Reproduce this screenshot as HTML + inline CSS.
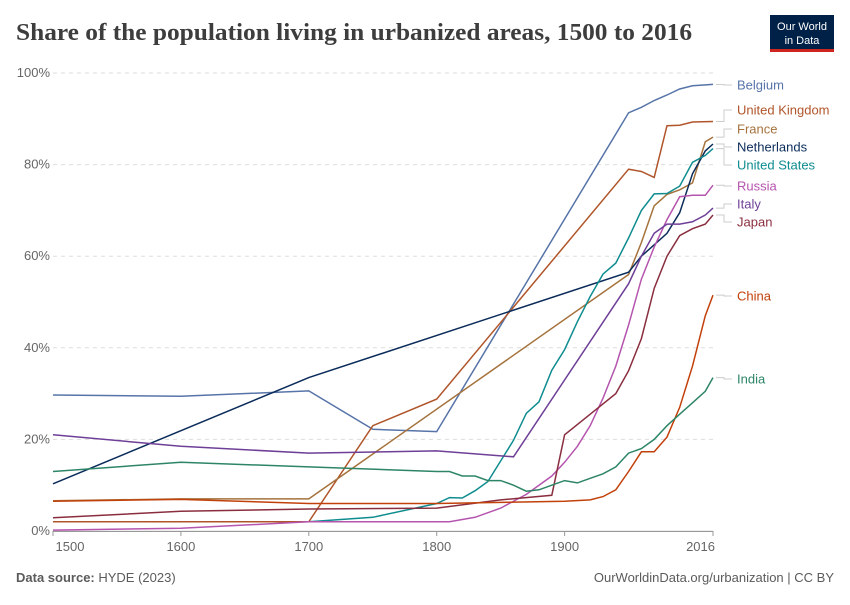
<!DOCTYPE html>
<html><head><meta charset="utf-8">
<style>
body{margin:0;background:#fff;font-family:"Liberation Sans",sans-serif;}
svg text{font-family:"Liberation Sans",sans-serif;}
</style></head>
<body>
<svg width="850" height="600" viewBox="0 0 850 600">
<text x="16" y="40" font-size="24" font-weight="bold" fill="#3d3d3d" style="font-family:'Liberation Serif',serif" textLength="676" lengthAdjust="spacingAndGlyphs">Share of the population living in urbanized areas, 1500 to 2016</text>
<g>
<rect x="770" y="15" width="64" height="36" fill="#002147"/>
<rect x="770" y="49" width="64" height="3" fill="#ce261e"/>
<text x="802" y="30" font-size="11" fill="#fff" text-anchor="middle">Our World</text>
<text x="802" y="44" font-size="11" fill="#fff" text-anchor="middle">in Data</text>
</g>
<g id="grid"></g>
<g id="xaxis"></g>
<g id="lines"></g>
<g id="labels"></g>
<text x="16" y="582" font-size="13" fill="#5b5b5b"><tspan font-weight="bold">Data source:</tspan> HYDE (2023)</text>
<text x="834" y="582" font-size="13" fill="#5b5b5b" text-anchor="end">OurWorldinData.org/urbanization | CC BY</text>
</svg>
<script>
const yTicks=[0,20,40,60,80,100];
const xTicks=[1500,1600,1700,1800,1900,2016];
const names=["Belgium","United Kingdom","France","Netherlands","United States","Russia","Italy","Japan","China","India"];
const colors=["#5774a8","#b0552a","#a5723c","#0b2c5a","#0f8c8f","#b555ae","#6e3f97","#8a2e3f","#c2410b","#2d8566"];
const labelY=[85,110,129,147,165,186,204,222,296,379];
const belgiumY=[1500,1600,1700,1750,1800,1950,1960,1970,1980,1990,2000,2016];
const belgiumV=[29.7,29.4,30.6,22.2,21.7,91.3,92.5,94,95.2,96.5,97.2,97.5];
const ukY=[1500,1700,1750,1800,1950,1960,1970,1980,1990,2000,2016];
const ukV=[2,2,23,28.8,79,78.5,77.2,88.5,88.6,89.3,89.4];
const franceY=[1500,1600,1700,1950,1960,1970,1980,1990,2000,2010,2016];
const franceV=[6.6,7,7,56,63,71,73.5,74.5,76,85,86];
const nlY=[1500,1700,1950,1960,1970,1980,1990,2000,2010,2016];
const nlV=[10.3,33.5,56.5,60,62.5,65,69.5,78,83,84.5];
const usY=[1700,1750,1800,1810,1820,1830,1840,1850,1860,1870,1880,1890,1900,1910,1920,1930,1940,1950,1960,1970,1980,1990,2000,2010,2016];
const usV=[2,3,6,7.3,7.2,8.8,10.8,15.3,19.8,25.7,28.2,35.1,39.6,45.7,51.2,56.1,58.5,64,70,73.6,73.7,75.3,80.5,82,83.5];
const ruY=[1500,1600,1700,1810,1830,1850,1870,1890,1900,1910,1920,1930,1940,1950,1960,1970,1980,1990,2000,2010,2016];
const ruV=[0.2,0.6,2,2,3,5,8,12,15,18.5,23,29,36,45,55,62,68,73,73.3,73.3,75.5];
const itY=[1500,1600,1700,1800,1860,1950,1960,1970,1980,1990,2000,2010,2016];
const itV=[21,18.5,17,17.5,16.2,54,60,65,67,67,67.5,69,70.5];
const jpY=[1500,1600,1700,1800,1850,1890,1900,1920,1940,1950,1960,1970,1980,1990,2000,2010,2016];
const jpV=[2.9,4.3,4.8,5,6.8,7.8,21,25.5,30,35,42,53,60,64.5,66,67,69];
const cnY=[1500,1600,1700,1800,1900,1920,1930,1940,1950,1960,1970,1980,1990,2000,2010,2016];
const cnV=[6.5,6.9,6,6,6.5,6.8,7.5,9,13,17.3,17.3,20.5,27,36,47,51.5];
const inY=[1500,1600,1700,1800,1810,1820,1830,1840,1850,1860,1870,1880,1890,1900,1910,1920,1930,1940,1950,1960,1970,1980,1990,2000,2010,2016];
const inV=[13,15,14,13,13,12,12,11,11,10,8.7,9,10,11,10.5,11.5,12.5,14,17,18,20,23,25.5,28,30.5,33.5];
const years=[belgiumY,ukY,franceY,nlY,usY,ruY,itY,jpY,cnY,inY];
const vals=[belgiumV,ukV,franceV,nlV,usV,ruV,itV,jpV,cnV,inV];
const X0=53,X1=713,Y0=531,Y1=73;
const x=yr=>X0+(yr-1500)/(2016-1500)*(X1-X0);
const y=v=>Y0-v/100*(Y0-Y1);
const NS="http://www.w3.org/2000/svg";
function mk(t,a,p){const e=document.createElementNS(NS,t);for(const k in a)e.setAttribute(k,a[k]);p.appendChild(e);return e;}
const g=document.getElementById('grid');
yTicks.forEach(t=>{
 const l=mk('line',{x1:53,x2:713,y1:y(t),y2:y(t),stroke:'#ddd','stroke-dasharray':t?'4,4':'0',},g);
 
 
 const tx=mk('text',{x:50,y:y(t)+4,'font-size':13,fill:'#666','text-anchor':'end'},g);
 tx.textContent=t+'%';
 
 
});
const xa=document.getElementById('xaxis');
const ax=mk('line',{x1:53,x2:713,y1:531.5,y2:531.5,stroke:'#999'},xa);


xTicks.forEach(t=>{
 mk('line',{x1:x(t),x2:x(t),y1:531,y2:536,stroke:'#999'},xa);
 const tx=mk('text',{x:t==1500?Math.max(x(t),70):x(t),y:551,'font-size':13,fill:'#666','text-anchor':t==2016?'end':'middle'},xa);
 if(t==2016)tx.setAttribute('x',x(t)+2);
 tx.textContent=t;
 
 
});
const lg=document.getElementById('lines'),lb=document.getElementById('labels');
names.forEach((n,i)=>{
 const d=years[i].map((yr,j)=>(j?'L':'M')+x(yr).toFixed(1)+','+y(vals[i][j]).toFixed(1)).join('');
 const p=mk('path',{d:d,fill:'none',stroke:colors[i],'stroke-width':1.5},lg);
 
 
 const ey=y(vals[i][vals[i].length-1]);
 mk('path',{d:`M716,${ey}H724V${labelY[i]}H732`,fill:'none',stroke:'#ccc'},lb);
 const t=mk('text',{x:737,y:labelY[i]+4.5,'font-size':13,fill:colors[i]},lb);
 t.textContent=n;
 
 
});
</script>
</body></html>
